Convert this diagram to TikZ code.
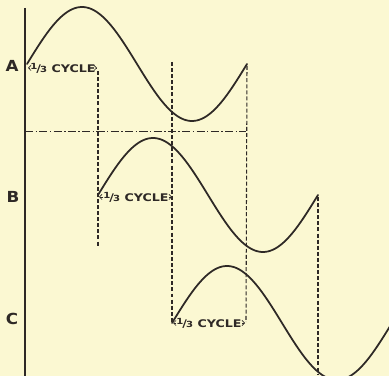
\documentclass[tikz,border=0pt]{standalone}
\usepackage{fontspec}
\setmainfont{DejaVu Sans}
\usetikzlibrary{arrows.meta,positioning,calc}
\definecolor{paper}{HTML}{FBF8D2}
\definecolor{ink}{HTML}{2E2926}
\newcommand\onethird{\raisebox{.5ex}{\fontsize{7.2}{7}\selectfont 1}\kern-.1em/\kern-.08em{\fontsize{7.2}{7}\selectfont 3}}
\tikzset{wave/.style={draw=ink,line width=1.5pt,line cap=round},axis/.style={draw=ink,line width=1.6pt},drop/.style={draw=ink,line width=.9pt,dash pattern=on 3.4pt off 1.8pt},mid/.style={draw=ink,line width=.8pt,dash pattern=on 7pt off 2pt on 1.2pt off 2pt},phase/.style={text=ink,font=\bfseries\fontsize{13}{14}\selectfont\addfontfeature{FakeStretch=1.1},inner sep=0pt},third/.style={text=ink,font=\bfseries\fontsize{9}{10}\selectfont\addfontfeature{FakeStretch=1.2},inner sep=0pt},brk/.style={draw=ink,line width=.6pt,-{Straight Barb[length=2.2pt,width=4.4pt]}}}
\begin{document}
\begin{tikzpicture}[x=.03cm,y=-.03cm]
\fill[paper] (0,0) rectangle (389,376);
\useasboundingbox (0,0) rectangle (389,376);
\coordinate (top) at (25,8); \coordinate (bot) at (25,376);
\draw[axis] (top)--(bot);
\begin{scope}
\clip (0,0) rectangle (389,376);
\draw[wave] plot[domain=0:360,samples=120] ({27+0.61111*\x},{64-57*sin(\x)});
\draw[wave] plot[domain=0:360,samples=120] ({98+0.61111*\x},{195-57*sin(\x)});
\draw[wave] plot[domain=0:360,samples=120] ({172+0.61111*\x},{323-57*sin(\x)});
\end{scope}
\coordinate (Aend) at (247,66); \coordinate (Bend) at (318,197);
\coordinate (d1t) at (98,71); \coordinate (d1b) at (98,246);
\coordinate (d2t) at (172,62); \coordinate (d2b) at (172,322);
\coordinate (d3b) at (246,322); \coordinate (d4b) at (318,374);
\draw[drop] (d1t)--(d1b); \draw[drop] (d2t)--(d2b);
\draw[drop] (Aend)--(d3b); \draw[drop] (Bend)--(d4b);
\coordinate (mL) at (25,131); \coordinate (mR) at (246,131);
\draw[mid] (mL)--(mR);
\node[phase] (A) at (12,66) {A};
\node[phase] (B) at (13,197) {B};
\node[phase] (C) at (12,319) {C};
\node[third] (tA) at (63,68) {\onethird\ CYCLE};
\node[third] (tB) at (136,197) {\onethird\ CYCLE};
\node[third] (tC) at (209,323) {\onethird\ CYCLE};
\coordinate (tAl) at (28,68); \coordinate (tAr) at (97,68);
\coordinate (tBl) at (99,197); \coordinate (tBr) at (172,197);
\coordinate (tCl) at (173,323); \coordinate (tCr) at (245,323);
\draw[brk] (tA.west)--(tAl); \draw[brk] (tA.east)--(tAr);
\draw[brk] (tB.west)--(tBl); \draw[brk] (tB.east)--(tBr);
\draw[brk] (tC.west)--(tCl); \draw[brk] (tC.east)--(tCr);
\end{tikzpicture}
\end{document}
